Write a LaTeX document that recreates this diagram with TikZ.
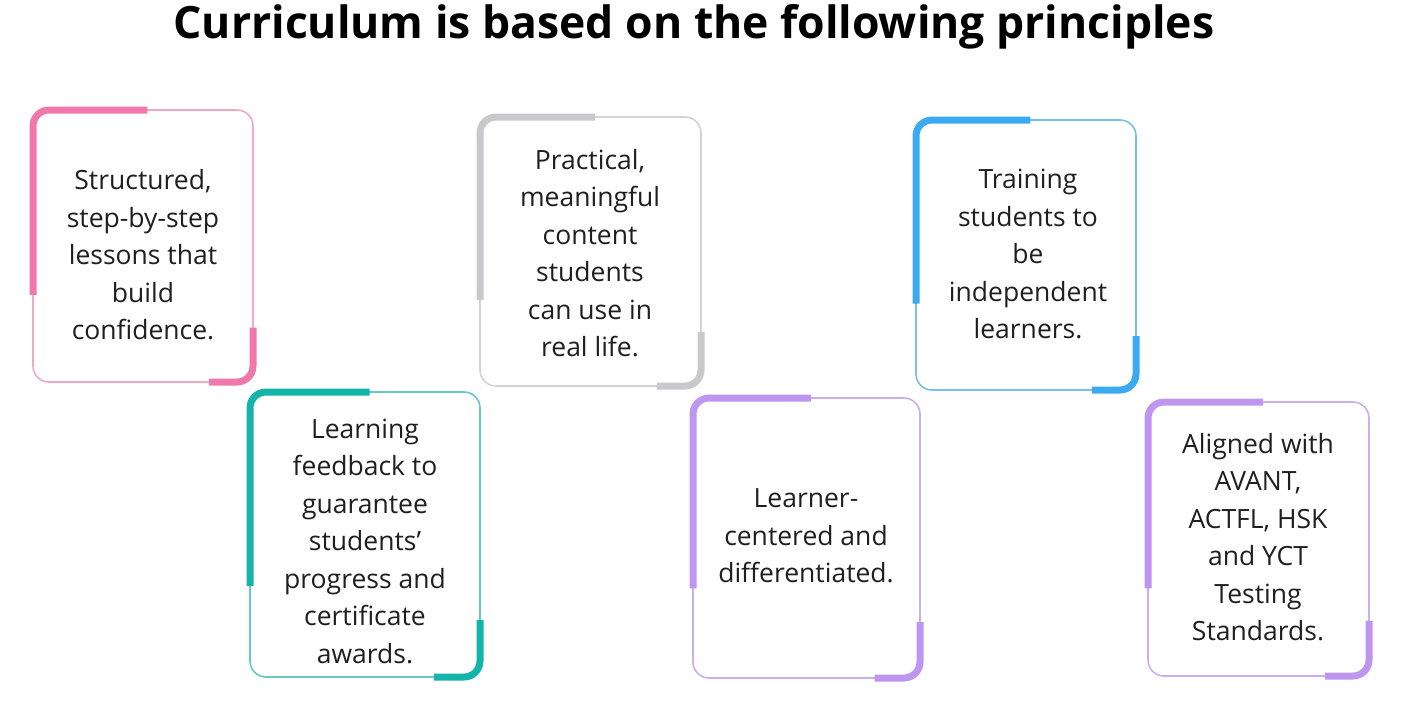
\documentclass[tikz,border=0pt]{standalone}
\usepackage{fontspec}
\setmainfont{Open Sans}
\begin{document}
\begin{tikzpicture}[x=1pt,y=-1pt,
 txt/.style={align=center,font=\fontsize{26.5}{37.5}\selectfont,text=black!88},
 thin/.style={line width=1.6pt,rounded corners=16pt},
 acc/.style={line width=7pt,rounded corners=16pt}]
\useasboundingbox (0,0) rectangle (1412,702);
\node (title) at (694,27) {\fontsize{44.5}{50}\selectfont\bfseries Curriculum is based on the following principles};
\foreach \xa/\ya/\xb/\yb/\c/\cl [count=\i] in {
 33/110/253/382/{rgb,255:red,240;green,120;blue,170}/{rgb,255:red,240;green,170;blue,200},
 250/392/480/677/{rgb,255:red,20;green,180;blue,170}/{rgb,255:red,100;green,200;blue,195},
 480/117/701/386/{rgb,255:red,200;green,200;blue,205}/{rgb,255:red,210;green,210;blue,215},
 693/398/920/678/{rgb,255:red,190;green,150;blue,240}/{rgb,255:red,200;green,175;blue,240},
 916/120/1136/390/{rgb,255:red,60;green,170;blue,240}/{rgb,255:red,120;green,190;blue,230},
 1148/402/1369/676/{rgb,255:red,190;green,150;blue,240}/{rgb,255:red,200;green,175;blue,240}}{
 \draw[thin,color=\cl] (\xa,\ya) rectangle (\xb,\yb);
 \draw[acc,color=\c] (\xa,{\ya+0.68*(\yb-\ya)}) -- (\xa,\ya) -- ({\xa+0.52*(\xb-\xa)},\ya);
 \draw[acc,color=\c] (\xb,{\ya+0.8*(\yb-\ya)}) -- (\xb,\yb) -- ({\xb-0.2*(\xb-\xa)},\yb);
 \coordinate (c\i) at ({(\xa+\xb)/2},{(\ya+\yb)/2});
}
\node[txt] (t1) at (143,255) {Structured,\\step-by-step\\lessons that\\build\\confidence.};
\node[txt] (t2) at (365,541) {Learning\\feedback to\\guarantee\\students’\\progress and\\certificate\\awards.};
\node[txt] (t3) at (590,253) {Practical,\\meaningful\\content\\students\\can use in\\real life.};
\node[txt] (t4) at (806,536) {Learner-\\centered and\\differentiated.};
\node[txt] (t5) at (1028,254) {Training\\students to\\be\\independent\\learners.};
\node[txt] (t6) at (1258,537) {Aligned with\\AVANT,\\ACTFL, HSK\\and YCT\\Testing\\Standards.};
\end{tikzpicture}
\end{document}
